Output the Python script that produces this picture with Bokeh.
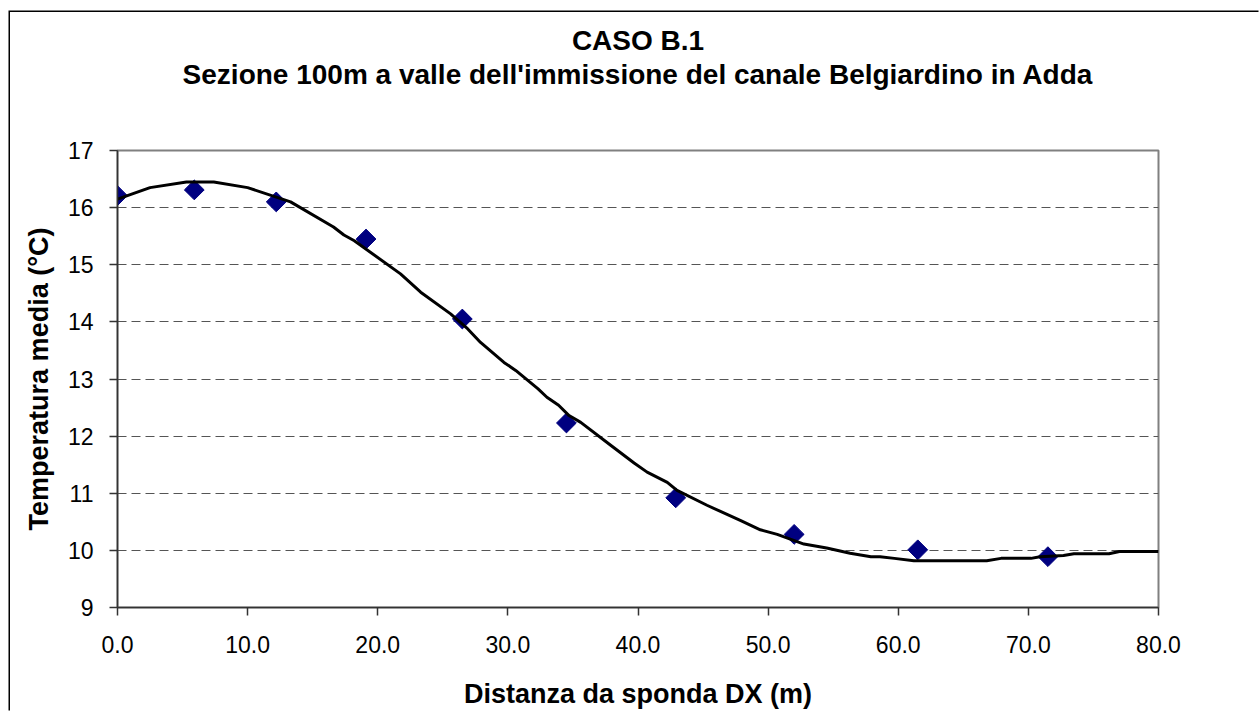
import numpy as np
from bokeh.plotting import figure
from bokeh.models import Range1d, FixedTicker, PrintfTickFormatter, Title, LinearAxis
from bokeh.embed import file_html
from bokeh.resources import INLINE

# measured points (diamonds)
pts_x = [0.0, 5.9, 12.2, 19.1, 26.5, 34.5, 42.9, 52.0, 61.5, 71.5]
pts_y = [16.21, 16.31, 16.10, 15.45, 14.05, 12.23, 10.92, 10.28, 10.01, 9.89]

# model curve
curve_x = [0, 2.5, 5.3, 7.4, 10.0, 13.3, 16.6, 17.4, 18.2, 21.75, 23.3, 25.6, 26.9, 27.9,
           29.7, 30.6, 32.3, 33.0, 33.9, 34.7, 35.6, 37.9, 39.7, 40.7, 42.25, 43.0, 45.3,
           47.9, 49.4, 50.7, 52.75, 54.5, 56.3, 57.9, 58.6, 59.7, 61.2, 66.8, 67.9, 70.2,
           70.9, 72.7, 73.5, 76.2, 77.0, 80.0]
curve_y = [16.15, 16.35, 16.45, 16.45, 16.35, 16.10, 15.66, 15.52, 15.42, 14.84, 14.52,
           14.14, 13.88, 13.64, 13.29, 13.15, 12.83, 12.68, 12.54, 12.36, 12.24, 11.84,
           11.53, 11.37, 11.19, 11.05, 10.79, 10.52, 10.36, 10.28, 10.11, 10.04, 9.95,
           9.89, 9.89, 9.86, 9.82, 9.82, 9.86, 9.86, 9.89, 9.91, 9.94, 9.94, 9.98, 9.98]

x_ticks = [0, 10, 20, 30, 40, 50, 60, 70, 80]
y_ticks = [9, 10, 11, 12, 13, 14, 15, 16, 17]

title_main = "CASO B.1"
title_sub = "Sezione 100m a valle dell'immissione del canale Belgiardino in Adda"
x_label = "Distanza da sponda DX (m)"
y_label = "Temperatura media (°C)"

FONT = "Liberation Sans"

p = figure(width=1250, height=700, output_backend="svg", toolbar_location=None,
           x_range=Range1d(0, 80), y_range=Range1d(9, 17), title=None,
           min_border_left=107, min_border_right=102, min_border_top=138, min_border_bottom=105,
           styles={"box-shadow": "-1.5px -1.5px 0px 0px black",
                   "margin-left": "10px", "margin-top": "11.5px"})
p.background_fill_color = "white"
p.border_fill_color = "white"
p.outline_line_color = "#808080"
p.outline_line_width = 2

xax = p.below[0]
yax = p.left[0]

# subtitle as the label of an otherwise invisible top axis
sub_axis = LinearAxis(axis_label=title_sub, ticker=FixedTicker(ticks=[]),
                      axis_line_color=None, major_tick_line_color=None,
                      minor_tick_line_color=None, major_tick_out=0, major_tick_in=0,
                      major_label_text_font_size="0px", major_label_standoff=0,
                      axis_label_text_font=FONT, axis_label_text_font_size="28px",
                      axis_label_text_font_style="bold", axis_label_text_color="black",
                      axis_label_standoff=61)
p.add_layout(sub_axis, "above")
main = Title(text=title_main, align="center", text_font=FONT, text_font_size="28px",
             text_font_style="bold", text_color="black", standoff=0)
p.add_layout(main, "above")

p.xgrid.grid_line_color = None
p.ygrid.grid_line_color = "#555555"
p.ygrid.grid_line_dash = "9 5"
p.ygrid.grid_line_width = 1

for ax in (xax, yax):
    ax.axis_line_color = "#333333"
    ax.axis_line_width = 1.5
    ax.major_tick_line_color = "#333333"
    ax.major_tick_line_width = 1.5
    ax.major_tick_out = 8
    ax.major_tick_in = 0
    ax.minor_tick_line_color = None
    ax.major_label_text_font = FONT
    ax.major_label_text_font_size = "23px"
    ax.major_label_text_color = "black"
    ax.axis_label_text_font = FONT
    ax.axis_label_text_font_size = "27px"
    ax.axis_label_text_font_style = "bold"
    ax.axis_label_text_color = "black"

xax.ticker = FixedTicker(ticks=x_ticks)
xax.formatter = PrintfTickFormatter(format="%.1f")
yax.ticker = FixedTicker(ticks=y_ticks)
xax.axis_label = x_label
yax.axis_label = y_label
xax.major_label_standoff = 20
yax.major_label_standoff = 16
xax.axis_label_standoff = 23
yax.axis_label_standoff = 11

p.scatter(pts_x, pts_y, marker="square", angle=np.pi / 4, size=14,
          fill_color="#000080", line_color="#000080")
p.line(curve_x, curve_y, line_color="black", line_width=3, line_join="round")

open("out.html", "w").write(file_html(p, INLINE))
